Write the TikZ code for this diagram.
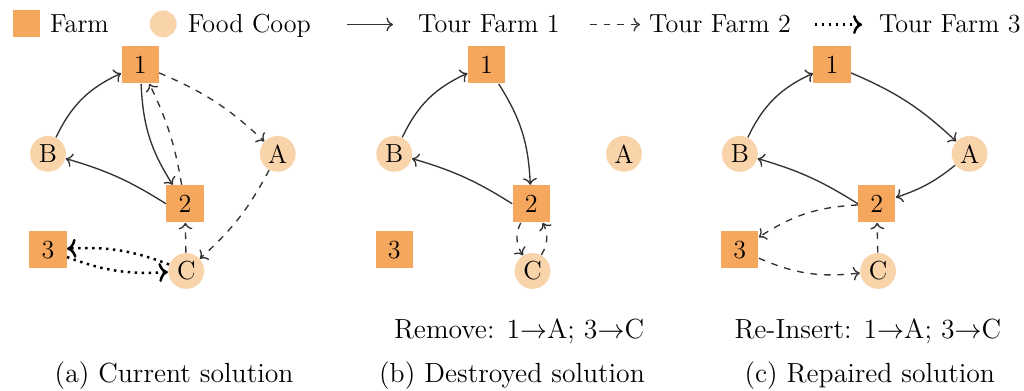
\documentclass[tikz,border=0pt]{standalone}
\usepackage{amsmath}
\usetikzlibrary{positioning,arrows.meta}
\definecolor{farmorange}{HTML}{F6A75E}
\definecolor{coopbeige}{HTML}{F9D3AA}

\begin{document}
\begin{tikzpicture}[font=\fontsize{11.6}{13.5}\selectfont,
  farm/.style={fill=farmorange,minimum size=0.58cm,inner sep=0pt},
  coop/.style={circle,fill=coopbeige,minimum size=0.56cm,inner sep=0pt},
  captxt/.style={anchor=base,font=\fontsize{12.3}{14}\selectfont},
  t1/.style={->,semithick,draw=black!80},
  t2/.style={->,semithick,dashed,draw=black!80},
  t3/.style={->,line width=1.1pt,dotted,draw=black}]
  \useasboundingbox (0,0) rectangle (16,6.094);
  % legend
  \node[farm,minimum size=0.42cm](lgfarm) at (0.41,5.72){};\node[anchor=base west](lgfarmt) at (0.66,5.58){Farm};
  \node[coop,minimum size=0.42cm](lgcoop) at (2.55,5.72){};\node[anchor=base west](lgcoopt) at (2.81,5.58){Food Coop};
  \coordinate (lga) at (5.42,5.71);\coordinate (lgae) at (6.14,5.71);\node[anchor=base west](lgat) at (6.41,5.58){Tour Farm 1};
  \coordinate (lgb) at (9.22,5.71);\coordinate (lgbe) at (10.0,5.71);\node[anchor=base west](lgbt) at (10.02,5.58){Tour Farm 2};
  \coordinate (lgc) at (12.73,5.71);\coordinate (lgce) at (13.47,5.71);\node[anchor=base west](lgct) at (13.61,5.58){Tour Farm 3};
  \draw[t1](lga)--(lgae);\draw[t2](lgb)--(lgbe);\draw[t3](lgc)--(lgce);
  % the three networks
  \foreach \p/\dx in {a/0,b/5.41,c/10.81}{
    \node[farm](\p1) at (\dx+2.19,5.08){1};\node[coop](\p B) at (\dx+0.75,3.69){B};
    \node[coop](\p A) at (\dx+4.34,3.69){A};\node[farm](\p2) at (\dx+2.89,2.91){2};
    \node[farm](\p3) at (\dx+0.75,2.19){3};\node[coop](\p C) at (\dx+2.91,1.86){C};
    \draw[t1,bend left=20](\p B)to(\p1);\draw[t1,bend right=8](\p2.west)to(\p B);
  }
  % (a) current
  \draw[t1,bend right=15](a1)to(a2);
  \draw[t2,bend left=10](a1)to(aA);\draw[t2,bend left=10](aA)to(aC);\draw[t2](aC)--(a2);\draw[t2,bend right=8](a2)to(a1);
  \draw[t3,bend right=12](aC)to(a3);\draw[t3,bend right=12](a3)to(aC);
  % (b) destroyed
  \draw[t1,bend left=15](b1)to(b2);
  \draw[t2,bend right=30](b2)to(bC);\draw[t2,bend right=30](bC)to(b2);
  % (c) repaired
  \draw[t1,bend left=10](c1)to(cA);\draw[t1,bend left=10](cA)to(c2);
  \draw[t2,bend right=15](c2)to(c3);\draw[t2,bend right=15](c3)to(cC);\draw[t2](cC)--(c2);
  % captions
  \node[captxt](rm) at (8.11,0.81){Remove: 1$\rightarrow$A; 3$\rightarrow$C};
  \node[captxt](ri) at (13.56,0.81){Re-Insert: 1$\rightarrow$A; 3$\rightarrow$C};
  \node[captxt](capa) at (2.72,0.11){(a) Current solution};
  \node[captxt](capb) at (8.0,0.11){(b) Destroyed solution};
  \node[captxt](capc) at (13.59,0.11){(c) Repaired solution};
\end{tikzpicture}
\end{document}
